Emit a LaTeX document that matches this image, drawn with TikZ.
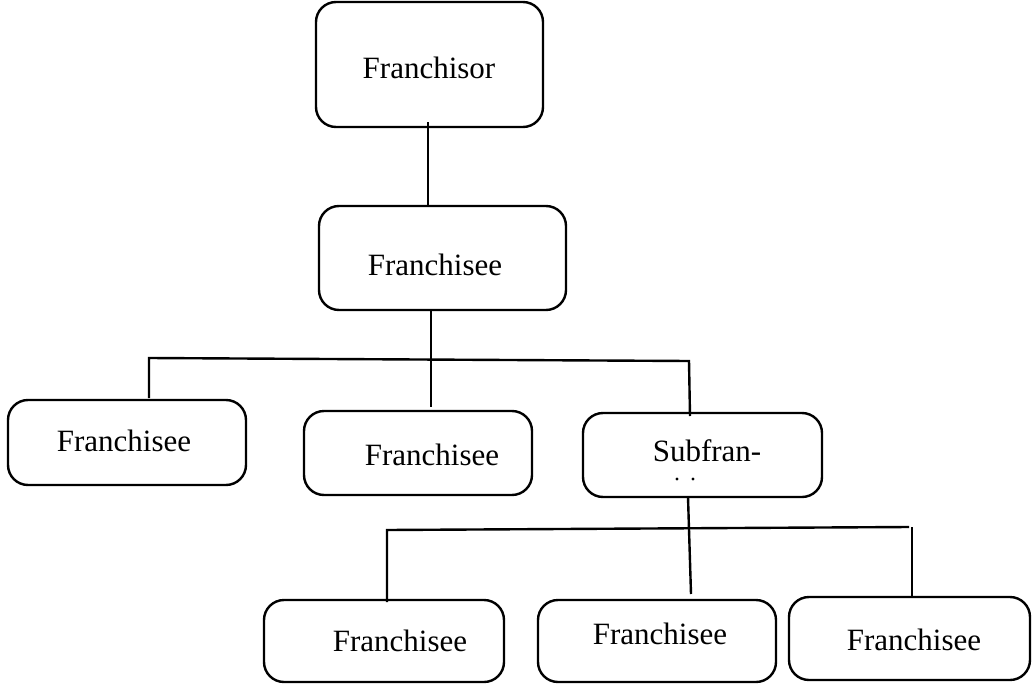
\documentclass[tikz,border=0pt]{standalone}
\usepackage{fontspec}
\setmainfont{Liberation Serif}
\begin{document}
\begin{tikzpicture}[x=1pt,y=-1pt,
  box/.style={draw=black, line width=2.4pt, rounded corners=20pt, inner sep=0pt, outer sep=0pt},
  lbl/.style={inner sep=0pt, font=\fontsize{31}{36}\selectfont},
  con/.style={draw=black, line width=2.4pt}]
\useasboundingbox (0,0) rectangle (1033,685);
% boxes
\node[box, minimum width=227pt, minimum height=125pt] (fr) at (429.5,64.5) {};
\node[box, minimum width=247pt, minimum height=104pt] (fe0) at (442.5,258) {};
\node[box, minimum width=238pt, minimum height=85pt] (feL) at (127,442.5) {};
\node[box, minimum width=228pt, minimum height=84pt] (feM) at (418,453) {};
\node[box, minimum width=239pt, minimum height=84pt] (sub) at (702.5,455) {};
\node[box, minimum width=240pt, minimum height=82pt] (fb1) at (384,641) {};
\node[box, minimum width=238pt, minimum height=82pt] (fb2) at (657,641) {};
\node[box, minimum width=241pt, minimum height=83pt] (fb3) at (909.5,638.5) {};
% labels
\node[lbl] (tfr) at (429,68) {Franchisor};
\node[lbl] (tfe0) at (435,265) {Franchisee};
\node[lbl] (tfeL) at (124,441) {Franchisee};
\node[lbl] (tfeM) at (432,455) {Franchisee};
\node[lbl] (tsub) at (707,451) {Subfran-};
\node[lbl] (tfb1) at (400,641) {Franchisee};
\node[lbl] (tfb2) at (660,634) {Franchisee};
\node[lbl] (tfb3) at (914,640) {Franchisee};
\fill (677,479) circle (1.6pt);
\fill (693,479) circle (1.6pt);
% connector points
\coordinate (a1) at (428,122);
\coordinate (a2) at (428,206);
\coordinate (b1) at (431,310);
\coordinate (b2) at (431,407);
\coordinate (h1L) at (149,358);
\coordinate (h1R) at (689,361);
\coordinate (h1Ld) at (149,398);
\coordinate (h1Rd) at (690,416);
\coordinate (c1) at (688,497);
\coordinate (c2) at (691,594);
\coordinate (h2L) at (387,530);
\coordinate (h2R) at (909,527);
\coordinate (h2Ld) at (387,602);
\coordinate (h3t) at (912,527);
\coordinate (h3d) at (912,597);
% connectors
\draw[con] (a1) -- (a2);
\draw[con] (b1) -- (b2);
\draw[con] (h1Ld) -- (h1L) -- (h1R) -- (h1Rd);
\draw[con] (c1) -- (c2);
\draw[con] (h2Ld) -- (h2L) -- (h2R);
\draw[con] (h3t) -- (h3d);
\end{tikzpicture}
\end{document}
